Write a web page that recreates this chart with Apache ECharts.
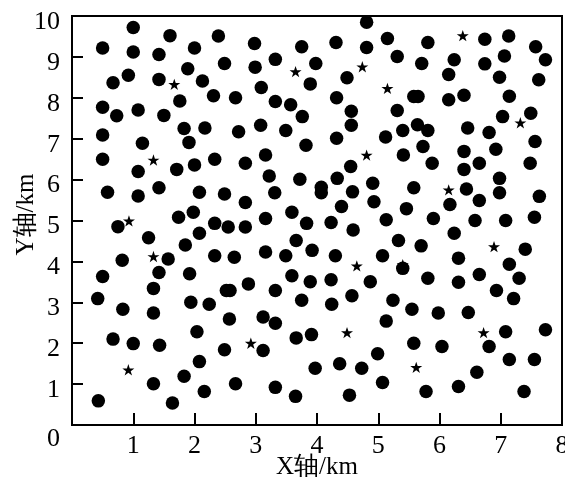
<!DOCTYPE html>
<html>
<head>
<meta charset="utf-8">
<script src="https://cdn.jsdelivr.net/npm/echarts@6/dist/echarts.min.js"></script>
<style>
html,body{margin:0;padding:0;background:#fff;}
#chart{width:565px;height:477px;}
</style>
</head>
<body>
<div id="chart"></div>
<script>
// Circle points (x in km, y in km)
var circleX = [1.00,4.81,1.60,2.39,5.15,6.74,7.13,0.50,1.00,1.42,2.00,2.98,3.75,4.31,4.81,5.81,7.57,7.73,5.31,3.32,
3.98,2.49,2.99,1.89,5.71,6.24,6.74,7.06,0.92,1.42,0.67,2.13,4.49,3.89,6.15,6.98,7.62,3.09,2.31,2.67,
1.76,3.32,4.32,5.58,5.65,6.15,6.40,7.14,0.50,1.08,0.73,1.50,3.57,3.76,4.56,5.31,7.03,7.49,1.83,2.17,
3.08,2.72,3.49,4.56,5.40,5.64,5.81,6.46,6.81,0.50,1.15,1.91,3.82,4.32,5.12,7.56,6.92,0.50,2.33,3.16,
2.83,2.00,1.08,1.71,4.55,5.41,5.73,5.88,6.40,6.40,6.65,7.48,3.22,3.72,4.33,4.07,4.07,4.91,6.98,5.58,
0.58,1.08,1.42,2.08,2.49,3.31,4.58,6.44,6.98,7.63,2.83,4.93,6.65,6.17,4.40,5.46,3.59,1.98,1.74,3.16,
5.13,5.90,6.58,7.08,7.55,0.75,2.33,2.55,2.83,3.83,4.23,4.59,2.08,6.24,1.25,3.66,5.33,1.85,5.70,7.40,
3.16,3.92,2.33,2.65,3.49,4.30,5.07,6.31,0.82,1.57,7.14,5.40,1.42,1.92,0.50,3.59,4.23,3.89,4.87,5.81,
6.31,6.65,7.30,2.88,1.33,2.52,2.58,3.32,6.93,0.42,4.57,3.75,5.24,7.21,1.94,2.24,4.24,0.83,5.55,1.33,
5.98,6.47,3.12,2.57,3.32,5.13,7.73,2.04,7.08,3.91,3.66,0.67,1.00,1.43,5.58,6.04,6.81,2.49,3.12,4.99,
2.08,4.37,3.97,4.73,7.14,7.55,6.61,1.83,1.33,2.67,5.07,3.32,2.16,6.31,5.78,7.38,4.53,3.65,0.43,1.64];
var circleY = [9.72,9.85,9.52,9.51,9.45,9.43,9.51,9.22,9.12,9.06,9.22,9.33,9.25,9.35,9.23,9.35,9.25,8.93,9.01,8.94,
8.84,8.84,8.75,8.71,8.84,8.93,8.83,9.02,8.55,8.45,8.37,8.41,8.49,8.34,8.57,8.50,8.44,8.25,8.05,8.00,
7.92,7.91,8.00,8.03,8.03,7.95,8.06,8.04,7.77,7.70,7.56,7.57,7.83,7.54,7.67,7.69,7.54,7.62,7.25,7.26,
7.33,7.17,7.20,7.33,7.20,7.34,7.20,7.26,7.15,7.09,6.89,6.91,6.84,7.01,7.04,6.93,6.74,6.50,6.50,6.60,
6.40,6.36,6.20,6.25,6.32,6.60,6.81,6.40,6.69,6.25,6.40,6.40,6.09,6.01,6.03,5.81,5.68,5.91,6.03,5.80,
5.69,5.60,5.80,5.69,5.65,5.68,5.70,5.77,5.68,5.59,5.44,5.46,5.49,5.39,5.34,5.29,5.20,5.20,5.08,5.05,
5.02,5.05,5.00,5.00,5.08,4.85,4.93,4.84,4.84,4.93,4.95,4.77,4.69,4.69,4.58,4.51,4.51,4.40,4.38,4.30,
4.23,4.27,4.14,4.10,4.14,4.14,4.14,4.08,4.03,4.06,3.93,3.83,3.73,3.70,3.63,3.65,3.55,3.50,3.50,3.59,
3.49,3.68,3.59,3.45,3.34,3.29,3.29,3.29,3.29,3.09,3.16,3.05,3.05,3.09,3.00,2.95,2.95,2.83,2.83,2.74,
2.74,2.75,2.64,2.59,2.49,2.54,2.33,2.28,2.28,2.21,2.13,2.10,1.99,1.95,2.00,1.92,1.92,1.84,1.82,1.74,
1.55,1.50,1.39,1.39,1.60,1.60,1.29,1.19,1.01,1.01,1.04,0.92,0.82,0.94,0.82,0.82,0.73,0.70,0.59,0.54];
// Star points
var starX = [6.38,4.74,3.65,1.67,5.15,7.32,4.81,1.33,6.15,0.93,6.89,1.33,4.65,5.40,2.92,4.49,6.72,0.92,5.62];
var starY = [9.52,8.76,8.64,8.33,8.23,7.39,6.60,6.48,5.75,4.99,4.36,4.12,3.89,3.92,2.00,2.26,2.26,1.35,1.41];
// Axis
var xTicks = [0,1,2,3,4,5,6,7,8];
var yTicks = [0,1,2,3,4,5,6,7,8,9,10];
var xName = 'X轴/km';
var yName = 'Y轴/km';

function zip(a,b){var r=[];for(var i=0;i<a.length;i++){r.push([a[i],b[i]]);}return r;}
var FONT = 'Liberation Serif';
var STAR = 'path://M50,0 L61.8,35.4 L99,35.4 L69.1,57.3 L80.3,92.7 L50,70.8 L19.7,92.7 L30.9,57.3 L1,35.4 L38.2,35.4 Z';

var chart = echarts.init(document.getElementById('chart'), null, {renderer:'canvas'});
chart.setOption({
  animation:false,
  grid:{left:72,right:3,top:16,bottom:52,outerBoundsMode:'none',
        show:true,borderColor:'#000',borderWidth:2},
  xAxis:{
    type:'value',min:xTicks[0],max:xTicks[xTicks.length-1],interval:1,
    name:xName,nameLocation:'middle',nameGap:30,nameMoveOverlap:false,
    nameTextStyle:{fontFamily:FONT,fontSize:25,color:'#000'},
    axisLine:{show:true,onZero:false,lineStyle:{color:'#000',width:2}},
    axisTick:{show:true,inside:true,length:12,lineStyle:{color:'#000',width:2}},
    axisLabel:{fontFamily:FONT,fontSize:26,color:'#000',margin:8,
      formatter:function(v){return v===0?'':String(v);}},
    splitLine:{show:false}
  },
  yAxis:{
    type:'value',min:yTicks[0],max:yTicks[yTicks.length-1],interval:1,
    name:yName,nameLocation:'middle',nameGap:33,nameMoveOverlap:false,
    nameTextStyle:{fontFamily:FONT,fontSize:25,color:'#000',padding:[0,0,0,12]},
    axisLine:{show:true,onZero:false,lineStyle:{color:'#000',width:2}},
    axisTick:{show:true,inside:true,length:11,lineStyle:{color:'#000',width:2}},
    axisLabel:{fontFamily:FONT,fontSize:26,color:'#000',margin:12,padding:[12,0,0,0],
      formatter:function(v){return v===0?'{o|0}':String(v);},
      rich:{o:{fontFamily:FONT,fontSize:26,color:'#000',padding:[16,0,0,0]}}},
    splitLine:{show:false}
  },
  series:[
    {type:'scatter',data:zip(starX,starY),symbol:STAR,symbolKeepAspect:true,symbolSize:12,
     itemStyle:{color:'#000',opacity:1},z:2},
    {type:'scatter',data:zip(circleX,circleY),symbol:'circle',symbolSize:13.5,
     itemStyle:{color:'#000',opacity:1},z:3}
  ]
});
</script>
</body>
</html>
